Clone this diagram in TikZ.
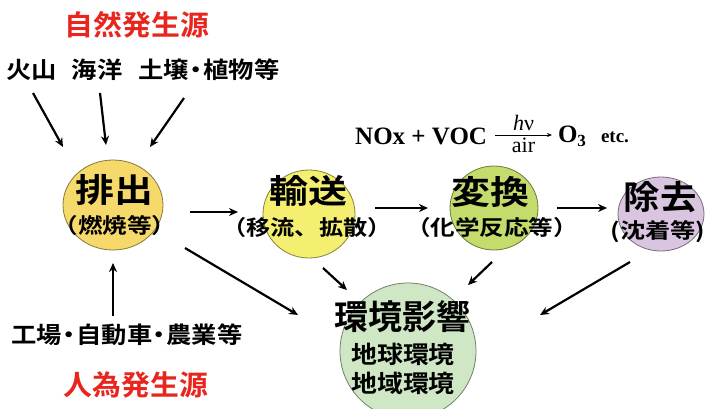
\documentclass[tikz,border=0pt]{standalone}
\usepackage{fontspec}
\usepackage{graphicx}
\usetikzlibrary{shapes.geometric,arrows.meta}
\newfontfamily\jpb{Noto Sans CJK JP Bold}
\newfontfamily\tms{Liberation Serif}
\newcommand{\hs}[2]{\scalebox{#1}[1]{#2}}
\newcommand{\nd}{\kern-5pt・\kern-5pt}
\definecolor{redc}{HTML}{E8261E}
\definecolor{c1}{HTML}{F6D96B}
\definecolor{c2}{HTML}{F4EF70}
\definecolor{c3}{HTML}{C3DC6C}
\definecolor{c4}{HTML}{D9C5E0}
\definecolor{c5}{HTML}{CFE7C4}
\begin{document}
\begin{tikzpicture}[x=1pt,y=-1pt,
  every node/.style={inner sep=0pt,outer sep=0pt},
  blob/.style={ellipse,draw=#1!55!black,fill=#1,line width=0.8pt},
  arr/.style={-{Stealth[length=9pt,width=8pt]},line width=2.2pt},
  ttl/.style={font=\jpb\fontsize{28}{28}\selectfont,text=redc},
  src/.style={font=\jpb\fontsize{23}{23}\selectfont},
  big/.style={font=\jpb\fontsize{33}{33}\selectfont},
  sub/.style={font=\jpb\fontsize{21}{21}\selectfont},
  sub2/.style={font=\jpb\fontsize{24}{24}\selectfont},
  eqf/.style={font=\tms\bfseries\fontsize{25}{25}\selectfont},
  eqs/.style={font=\tms\fontsize{22}{22}\selectfont}]
\useasboundingbox[fill=white] (0,0) rectangle (710,408);

% ellipses
\node[blob=c1,minimum width=100pt,minimum height=90pt] (e1) at (113,205) {};
\node[blob=c2,minimum width=92pt,minimum height=88pt] (e2) at (309,214) {};
\node[blob=c3,minimum width=88pt,minimum height=84pt] (e3) at (494,208) {};
\node[blob=c4,minimum width=86pt,minimum height=74pt] (e4) at (661,214) {};
\node[blob=c5,minimum width=136pt,minimum height=136pt] (e5) at (408,351) {};

% ellipse texts
\node[big] (e1a) at (114,190) {\hs{1.18}{排出}};
\node[sub] (e1b) at (115,226) {\hs{1.17}{（燃焼等）}};
\node[big] (e2a) at (308,191) {\hs{1.18}{輸送}};
\node[sub] (e2b) at (307,228) {\hs{1.15}{（移流、拡散）}};
\node[big] (e3a) at (490,192) {\hs{1.18}{変換}};
\node[sub] (e3b) at (492,228) {\hs{1.17}{（化学反応等）}};
\node[big] (e4a) at (660,197) {\hs{1.1}{除去}};
\node[sub] (e4b) at (658,232) {\hs{1.2}{(沈着等)}};
\node[font=\jpb\fontsize{34}{34}\selectfont] (e5a) at (402,317) {環境影響};
\node[sub2] (e5b) at (403,354) {\hs{1.08}{地球環境}};
\node[sub2] (e5c) at (403,383) {\hs{1.08}{地域環境}};

% sources
\node[ttl] (t1) at (137,25) {\hs{1.03}{自然発生源}};
\node[src] (kazan) at (32,70) {\hs{1.1}{火山}};
\node[src] (kaiyo) at (97,70) {\hs{1.1}{海洋}};
\node[src] (dojo) at (209,70) {\hs{1.1}{土壌\nd 植物等}};
\node[src] (kojo) at (127,335) {\hs{1.1}{工場\nd 自動車\nd 農業等}};
\node[ttl] (t2) at (136,385) {\hs{1.03}{人為発生源}};

% equation
\node[eqf,anchor=east] (nv) at (487,136) {NOx + VOC};
\node[eqf,anchor=west] (o3) at (558,136) {O\raisebox{-4pt}{\fontsize{17}{17}\selectfont 3}};
\node[font=\tms\bfseries\fontsize{19}{19}\selectfont,anchor=west] (etc) at (601,137) {etc.};
\draw[-{Stealth[length=5pt,width=4pt]},line width=0.9pt]
  ([xshift=8pt,yshift=1pt]nv.east) -- ([xshift=-6pt,yshift=1pt]o3.west)
  node[midway,above=4pt,eqs] (hv) {\textit{h}ν}
  node[midway,below=3pt,eqs] (air) {air};

% arrows
\draw[arr] ([shift={(1pt,-23pt)}]kazan.center) -- ([shift={(-50pt,58pt)}]e1.center);
\draw[arr] ([shift={(3pt,-23pt)}]kaiyo.center) -- ([shift={(-7pt,60pt)}]e1.center);
\draw[arr] ([shift={(-25pt,-28pt)}]dojo.center) -- ([shift={(37pt,58pt)}]e1.center);
\draw[arr] ([shift={(-14pt,19pt)}]kojo.center) -- ([shift={(0pt,-58pt)}]e1.center);

\draw[arr] ([xshift=27pt,yshift=-7pt]e1.east) -- ([xshift=-25pt,yshift=2pt]e2.west);
\draw[arr] ([xshift=20pt,yshift=6pt]e2.east) -- ([xshift=-22pt]e3.west);
\draw[arr] ([xshift=19pt]e3.east) -- ([xshift=-11pt,yshift=6pt]e4.west);

\draw[arr] ([shift={(72pt,-43pt)}]e1.center) -- ([shift={(-110pt,36pt)}]e5.center);
\draw[arr] ([shift={(14pt,-54pt)}]e2.center) -- ([shift={(-61pt,61pt)}]e5.center);
\draw[arr] ([shift={(-2pt,-54pt)}]e3.center) -- ([shift={(60pt,66pt)}]e5.center);
\draw[arr] ([shift={(-31pt,-48pt)}]e4.center) -- ([shift={(132pt,36pt)}]e5.center);
\end{tikzpicture}
\end{document}
